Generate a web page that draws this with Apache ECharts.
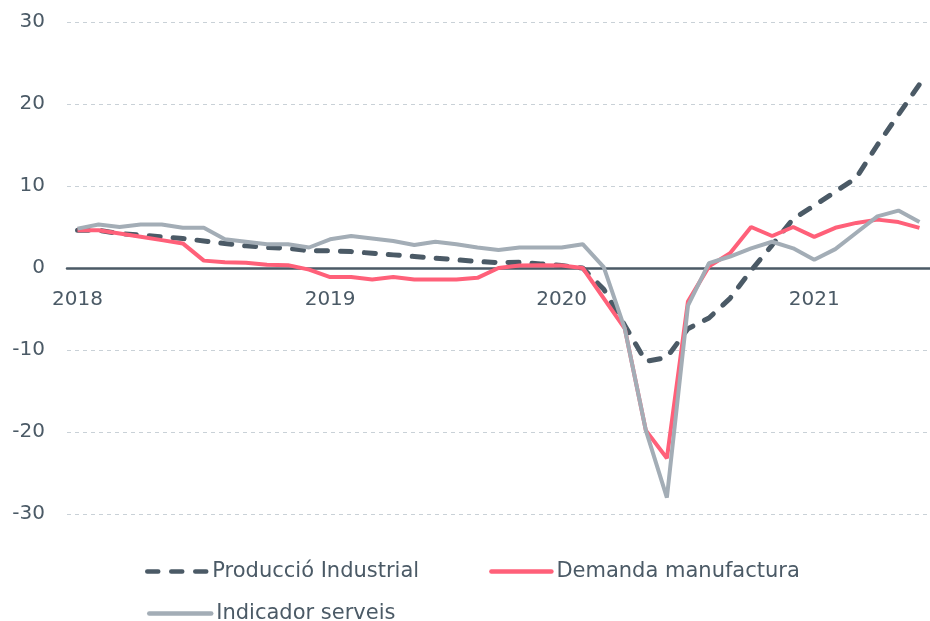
<!DOCTYPE html>
<html>
<head>
<meta charset="utf-8">
<script src="https://cdn.jsdelivr.net/npm/echarts@6/dist/echarts.min.js"></script>
<style>
  html, body { margin: 0; padding: 0; background: #fff; }
  #chart { width: 930px; height: 621px; }
</style>
</head>
<body>
<div id="chart"></div>
<script>
// mesos (categories)
const months = [
  '2018-01', '2018-02', '2018-03', '2018-04', '2018-05', '2018-06', '2018-07', '2018-08', '2018-09', '2018-10', '2018-11', '2018-12',
  '2019-01', '2019-02', '2019-03', '2019-04', '2019-05', '2019-06', '2019-07', '2019-08', '2019-09', '2019-10', '2019-11', '2019-12',
  '2020-01', '2020-02', '2020-03', '2020-04', '2020-05', '2020-06', '2020-07', '2020-08', '2020-09', '2020-10', '2020-11', '2020-12',
  '2021-01', '2021-02', '2021-03', '2021-04', '2021-05'
];

// etiquetes de l'eix x i la categoria on surten
const yearLabels = ['2018', '2019', '2020', '2021'];
const yearLabelIdx = [0, 12, 23, 35];

const produccio = [
  4.6, 4.6, 4.2, 4.0, 3.8, 3.6, 3.3, 3.0, 2.7, 2.5, 2.4, 2.1,
  2.1, 2.0, 1.8, 1.6, 1.4, 1.2, 1.0, 0.8, 0.65, 0.7, 0.5, 0.3,
  0.0, -2.6, -7.0, -11.4, -10.9, -7.4, -6.1, -3.7, -0.3, 2.8, 6.0, 7.6,
  9.3, 11.0, 15.0, 18.7, 22.4
];

const demanda = [
  4.6, 4.6, 4.2, 3.8, 3.4, 3.0, 0.9, 0.7, 0.65, 0.4, 0.35, -0.2,
  -1.1, -1.1, -1.4, -1.1, -1.4, -1.4, -1.4, -1.2, 0.0, 0.3, 0.35, 0.3,
  0.0, -3.7, -7.4, -19.8, -23.2, -4.1, 0.2, 1.8, 5.0, 3.9, 5.0, 3.8,
  4.9, 5.5, 5.9, 5.6, 4.9
];

const serveis = [
  4.8, 5.3, 5.0, 5.3, 5.3, 4.9, 4.9, 3.5, 3.2, 2.9, 2.9, 2.5,
  3.5, 3.9, 3.6, 3.3, 2.8, 3.2, 2.9, 2.5, 2.2, 2.5, 2.5, 2.5,
  2.9, 0.1, -7.4, -19.8, -28.0, -4.6, 0.6, 1.4, 2.4, 3.2, 2.4, 1.0,
  2.3, 4.3, 6.3, 7.0, 5.6
];

const textColor = '#4b5a66';
const fontFamily = '"DejaVu Sans", sans-serif';

const chart = echarts.init(document.getElementById('chart'), null, { renderer: 'canvas' });

const legendText = { color: textColor, fontSize: 21, fontFamily: fontFamily };

const option = {
  animation: false,
  textStyle: { fontFamily: fontFamily, color: textColor },
  grid: {
    left: 67,
    right: -6,
    top: 22,
    bottom: 107
  },
  legend: [{
    data: ['Producció Industrial', 'Demanda manufactura'],
    left: 140,
    top: 556,
    itemWidth: 60,
    itemHeight: 14,
    itemGap: 70,
    itemStyle: { opacity: 0 },
    lineStyle: { width: 4.5, cap: 'round' },
    textStyle: legendText
  }, {
    data: ['Indicador serveis'],
    left: 142,
    top: 598,
    itemWidth: 62,
    itemHeight: 14,
    itemStyle: { opacity: 0 },
    lineStyle: { width: 4.5, cap: 'round' },
    textStyle: legendText
  }],
  xAxis: {
    type: 'category',
    data: months,
    boundaryGap: true,
    axisLine: {
      onZero: true,
      lineStyle: { color: textColor, width: 2.5 }
    },
    axisTick: { show: false },
    axisLabel: {
      color: textColor,
      fontSize: 20,
      // les etiquetes van just sota la línia del zero
      margin: -224,
      interval: function (idx) {
        return yearLabelIdx.indexOf(idx) !== -1;
      },
      formatter: function (value, idx) {
        const i = yearLabelIdx.indexOf(idx);
        return i === -1 ? '' : yearLabels[i];
      }
    },
    splitLine: { show: false }
  },
  yAxis: {
    type: 'value',
    min: -30,
    max: 30,
    interval: 10,
    axisLine: { show: false },
    axisTick: { show: false },
    axisLabel: {
      color: textColor,
      fontSize: 20,
      margin: 22
    },
    splitLine: {
      show: true,
      lineStyle: { color: '#c9d1d7', type: [4, 4], width: 1 }
    }
  },
  series: [{
    name: 'Producció Industrial',
    type: 'line',
    data: produccio,
    symbol: 'none',
    itemStyle: { color: '#4b5a66' },
    lineStyle: { color: '#4b5a66', width: 5, type: [11, 13], cap: 'round' },
    z: 2
  }, {
    name: 'Demanda manufactura',
    type: 'line',
    data: demanda,
    symbol: 'none',
    itemStyle: { color: '#ff6079' },
    lineStyle: { color: '#ff6079', width: 4 },
    z: 3
  }, {
    name: 'Indicador serveis',
    type: 'line',
    data: serveis,
    symbol: 'none',
    itemStyle: { color: '#a3adb6' },
    lineStyle: { color: '#a3adb6', width: 4 },
    z: 4
  }]
};

chart.setOption(option);
</script>
</body>
</html>
